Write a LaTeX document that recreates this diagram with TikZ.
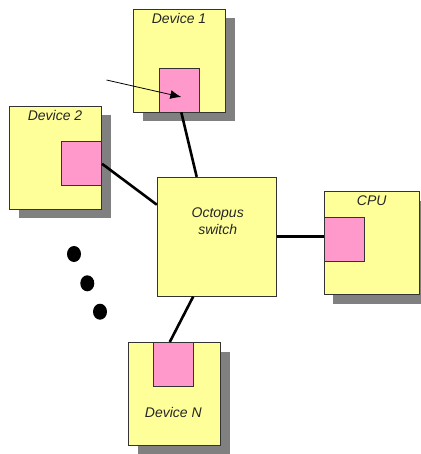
\documentclass[tikz,border=0pt]{standalone}
\usepackage{fontspec}
\setmainfont{Liberation Sans}
\usetikzlibrary{shadows,calc,arrows.meta}
\definecolor{boxyellow}{HTML}{FFFF99}
\definecolor{portpink}{HTML}{FF99CC}
\definecolor{shadowgray}{HTML}{808080}
\definecolor{edgegray}{HTML}{333333}
\tikzset{
  devbox/.style={draw=edgegray, line width=0.7pt, fill=boxyellow, minimum width=92pt, minimum height=103pt, inner sep=0pt,
    drop shadow={shadow xshift=9pt, shadow yshift=-9pt, fill=shadowgray, opacity=1}},
  switchbox/.style={draw=edgegray, line width=0.7pt, fill=boxyellow, minimum width=119pt, minimum height=119pt, inner sep=0pt},
  portbox/.style={draw=edgegray, line width=0.7pt, fill=portpink, minimum width=40pt, minimum height=44pt, inner sep=0pt},
  lbl/.style={font=\fontsize{14}{17}\selectfont\itshape, text=black!85, inner sep=0pt, align=center},
  link/.style={line width=2.6pt, black},
  pointer/.style={line width=0.8pt, -{Latex[length=11pt,width=9pt]}},
  dot/.style={fill=black, ellipse},
}
\begin{document}
\begin{tikzpicture}[x=1pt,y=-1pt]
\useasboundingbox (0,0) rectangle (420,454);
% boxes
\node[devbox] (d1) at (179.5,60.5) {};
\node[portbox] (p1) at (179.3,90) {};
\node[devbox] (d2) at (55.5,157.7) {};
\node[portbox] (p2) at (81.7,163.8) {};
\node[switchbox] (sw) at (216.7,236.7) {};
\node[devbox, minimum width=95pt] (cpu) at (371.8,243.3) {};
\node[portbox] (pc) at (344.3,239.5) {};
\node[devbox] (dn) at (174.5,394) {};
\node[portbox] (pn) at (173.8,364.3) {};
% labels
\node[lbl] (t1) at (179,18) {Device 1};
\node[lbl] (t2) at (55,115) {Device 2};
\node[lbl] (tsw) at (217.7,220.7) {Octopus\\switch};
\node[lbl] (tc) at (371.7,200.5) {CPU};
\node[lbl] (tn) at (173.3,412) {Device N};
% links
\draw[link] ([xshift=2pt]p1.south) -- ([xshift=-20pt]sw.north);
\draw[link] (p2.east) -- ($(sw.west)+(0,-32)$);
\draw[link] (sw.east) -- (sw.east -| pc.west);
\draw[link] ([xshift=-4pt]pn.north) -- ([xshift=-23.5pt]sw.south);
% pointer
\coordinate (ps) at (106.5,80);
\draw[pointer] (ps) -- ($(p1.center)+(2,7)$);
% dots
\fill (74,254) ellipse [x radius=7, y radius=8];
\fill (87.3,283.3) ellipse [x radius=7, y radius=8];
\fill (100,311.7) ellipse [x radius=7, y radius=8];
\end{tikzpicture}
\end{document}
